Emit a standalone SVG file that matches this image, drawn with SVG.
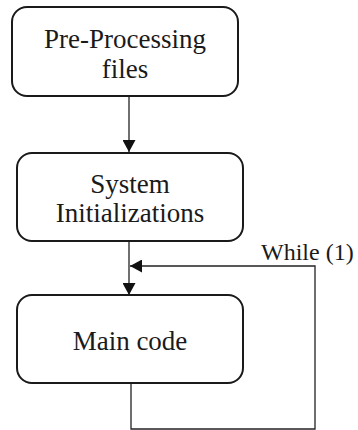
<svg xmlns="http://www.w3.org/2000/svg" width="358" height="430" viewBox="0 0 358 430">
  <style>
    .box { fill: #ffffff; stroke: #1a1a1a; stroke-width: 2; }
    .lbl { font-family: "Liberation Serif", "Times New Roman", serif; font-size: 27px; fill: #1a1a1a; text-anchor: middle; }
    .note { font-family: "Liberation Serif", "Times New Roman", serif; font-size: 24px; fill: #1a1a1a; }
    .wire { fill: none; stroke: #222222; stroke-width: 1.3; }
  </style>
  <defs>
    <marker id="tri" viewBox="0 0 12 13" refX="12" refY="6.5" markerWidth="12" markerHeight="13" markerUnits="userSpaceOnUse" orient="auto">
      <path d="M0,0 L12,6.5 L0,13 Z" fill="#111111"/>
    </marker>
  </defs>
  <rect width="358" height="430" fill="#ffffff"/>

  <g id="connectors">
    <path class="wire" d="M129,96 V152" marker-end="url(#tri)"/>
    <path class="wire" d="M129,241 V295" marker-end="url(#tri)"/>
    <path class="wire" d="M131,383 V429 H315 V266 H130" marker-end="url(#tri)"/>
    <text class="note" x="261" y="260">While (1)</text>
  </g>

  <g id="preprocessing">
    <rect class="box" x="12" y="7" width="226" height="89" rx="15"/>
    <text class="lbl" x="125" y="48">Pre-Processing</text>
    <text class="lbl" x="125" y="78">files</text>
  </g>

  <g id="system-init">
    <rect class="box" x="17" y="153" width="226" height="88" rx="15"/>
    <text class="lbl" x="130" y="193">System</text>
    <text class="lbl" x="130" y="222">Initializations</text>
  </g>

  <g id="main-code">
    <rect class="box" x="17" y="295" width="226" height="88" rx="15"/>
    <text class="lbl" x="130" y="350">Main code</text>
  </g>
</svg>
